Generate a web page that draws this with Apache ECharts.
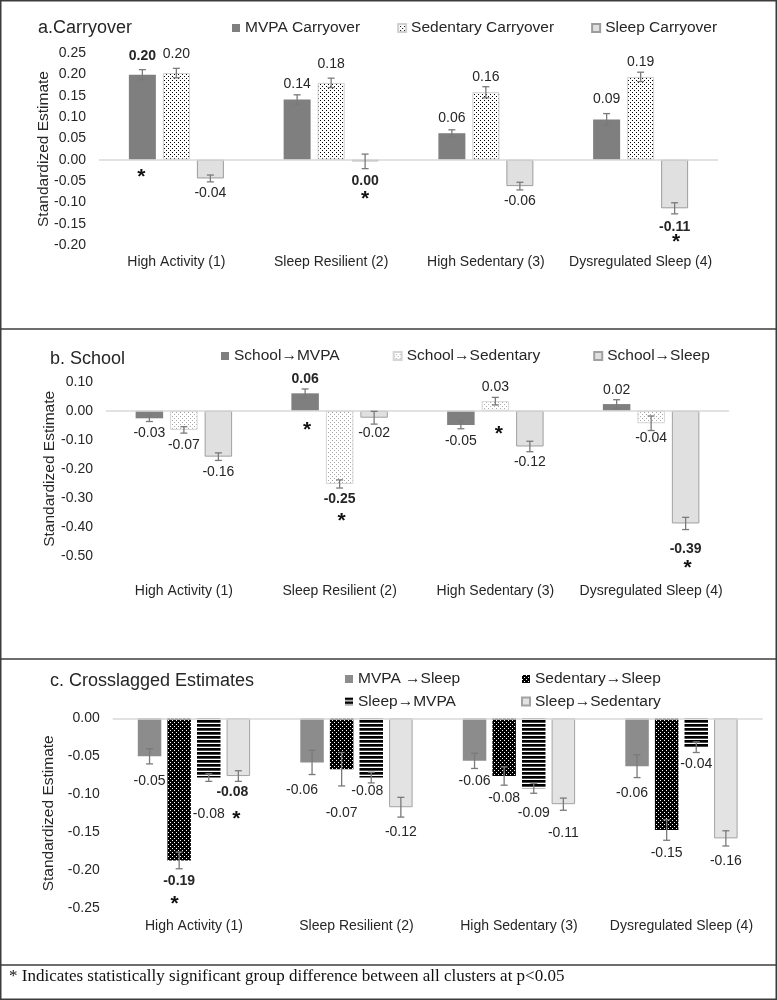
<!DOCTYPE html>
<html><head><meta charset="utf-8">
<script src="https://cdn.jsdelivr.net/npm/echarts@6/dist/echarts.min.js"></script>
<style>html,body{margin:0;padding:0;background:#fff}#c{width:777px;height:1000px}</style>
</head><body><div id="c"></div>
<script>
// ---------------- DATA ----------------
const categories = ['High Activity (1)', 'Sleep Resilient (2)', 'High Sedentary (3)', 'Dysregulated Sleep (4)'];

// a. Carryover
const aYTicks = [-0.20, -0.15, -0.10, -0.05, 0.00, 0.05, 0.10, 0.15, 0.20, 0.25];
const aMVPA = [0.199, 0.141, 0.062, 0.094];
const aMVPAErr = [0.012, 0.011, 0.008, 0.014];
const aSed = [0.203, 0.180, 0.158, 0.194];
const aSedErr = [0.011, 0.011, 0.013, 0.011];
const aSleep = [-0.044, -0.004, -0.062, -0.114];
const aSleepErr = [0.008, 0.017, 0.009, 0.013];
const aMVPABold = [1, 0, 0, 0], aSedBold = [0, 0, 0, 0], aSleepBold = [0, 1, 0, 1];
const aMVPAStar = [1, 0, 0, 0], aSedStar = [0, 0, 0, 0], aSleepStar = [0, 1, 0, 1];

// b. School
const bYTicks = [-0.50, -0.40, -0.30, -0.20, -0.10, 0.00, 0.10];
const bMVPA = [-0.026, 0.060, -0.049, 0.023];
const bMVPAErr = [0.011, 0.015, 0.013, 0.015];
const bSed = [-0.066, -0.252, 0.033, -0.043];
const bSedErr = [0.011, 0.014, 0.013, 0.025];
const bSleep = [-0.158, -0.024, -0.123, -0.388];
const bSleepErr = [0.013, 0.022, 0.018, 0.021];
const bMVPABold = [0, 1, 0, 0], bSedBold = [0, 1, 0, 0], bSleepBold = [0, 0, 0, 1];
const bMVPAStar = [0, 1, 0, 0], bSedStar = [0, 1, 1, 0], bSleepStar = [0, 0, 0, 1];

// c. Crosslagged
const cYTicks = [-0.25, -0.20, -0.15, -0.10, -0.05, 0.00];
const cMVPASleep = [-0.050, -0.058, -0.056, -0.063];
const cMVPASleepErr = [0.010, 0.016, 0.010, 0.015];
const cSedSleep = [-0.187, -0.067, -0.076, -0.147];
const cSedSleepErr = [0.011, 0.022, 0.012, 0.0135];
const cSleepMVPA = [-0.078, -0.078, -0.092, -0.038];
const cSleepMVPAErr = [0.005, 0.007, 0.0066, 0.007];
const cSleepSed = [-0.076, -0.117, -0.113, -0.158];
const cSleepSedErr = [0.007, 0.013, 0.008, 0.010];
const cMVPASleepBold = [0, 0, 0, 0], cSedSleepBold = [1, 0, 0, 0], cSleepMVPABold = [0, 0, 0, 0], cSleepSedBold = [1, 0, 0, 0];
const cMVPASleepStar = [0, 0, 0, 0], cSedSleepStar = [1, 0, 0, 0], cSleepMVPAStar = [0, 0, 0, 0], cSleepSedStar = [1, 0, 0, 0];

const footnote = '* Indicates statistically significant group difference between all clusters at p<0.05';

// ---------------- STYLE / LAYOUT ----------------
const FONT = "'Liberation Sans', Arial, sans-serif";
const TXT = '#262626';
// label centre distance (px) from bar end, per point
const labelGap = {
  aMVPA: [19, 15.7, 15, 20], aSed: [19.3, 18.3, 15, 15], aSleep: [14.7, 19.3, 15, 18.4],
  bMVPA: [15.3, 14.3, 15.7, 14], bSed: [15.7, 15.3, 14.3, 15], bSleep: [15.6, 15, 15.4, 25.7],
  cMS: [24.7, 27.6, 19.8, 26.5], cSS: [20.3, 43.5, 22.2, 22.7], cSM: [36.4, 13.1, 25.1, 16.8], cSSd: [15.6, 24.5, 28.5, 22.3]
};
const labelDx = { cMS: [0, -10, 0, -5], cSM: [0, -4, 0, 0], cSSd: [-6, 0, 0, 0] };
// star placement: [anchor ('base'|'end'), visual-centre distance below anchor px, dx]
const starPos = {
  aMVPA: [['base', 12.7, -1]], aSleep: [['end', 33.3, 0], ['end', 28.5, 1.5]],
  bMVPA: [['base', 14.3, 2]], bSed: [['end', 32.1, 2], ['base', 18.3, 3.5]], bSleep: [['end', 39.6, 2]],
  cSS: [['end', 38.6, -4.5]], cSSd: [['end', 37.9, -2]]
};

function pattern(w, h, draw) {
  const cv = document.createElement('canvas'); cv.width = w; cv.height = h;
  const g = cv.getContext('2d'); draw(g, w, h);
  return { image: cv, repeat: 'repeat' };
}
const dotsBlack = pattern(4, 4, (g) => { g.fillStyle = '#fff'; g.fillRect(0, 0, 4, 4); g.fillStyle = '#000'; g.fillRect(0, 0, 1, 1); g.fillRect(2, 2, 1, 1); });
const dotsLight = pattern(4, 4, (g) => { g.fillStyle = '#fff'; g.fillRect(0, 0, 4, 4); g.fillStyle = '#a8a8a8'; g.fillRect(0, 0, 1, 1); g.fillRect(2, 2, 1, 1); });
const darkDots = pattern(4, 4, (g) => { g.fillStyle = '#000'; g.fillRect(0, 0, 4, 4); g.fillStyle = '#fff'; g.fillRect(0, 0, 1, 1); g.fillRect(2, 2, 1, 1); });
const stripes = pattern(4, 4, (g) => { g.fillStyle = '#fff'; g.fillRect(0, 0, 4, 4); g.fillStyle = '#000'; g.fillRect(0, 0, 4, 2.7); });

const fmt = (v) => (Math.abs(v) < 0.005 ? 0 : v).toFixed(2);

const panels = [
  { grid: { left: 99, top: 53, width: 619, height: 192 }, ticks: aYTicks, nameGap: 47, labelMargin: 10, bw: 27, gap: 7,
    series: [
      { key: 'aMVPA', name: 'MVPA Carryover', vals: aMVPA, err: aMVPAErr, bold: aMVPABold, star: aMVPAStar, style: { color: '#7f7f7f' } },
      { key: 'aSed', name: 'Sedentary Carryover', vals: aSed, err: aSedErr, bold: aSedBold, star: aSedStar, style: { color: dotsBlack, borderColor: '#d0d0d0', borderWidth: 1 } },
      { key: 'aSleep', name: 'Sleep Carryover', vals: aSleep, err: aSleepErr, bold: aSleepBold, star: aSleepStar, style: { color: '#e0e0e0', borderColor: '#9c9c9c', borderWidth: 1 } }
    ] },
  { grid: { left: 106, top: 381.7, width: 623, height: 174.3 }, ticks: bYTicks, nameGap: 48, labelMargin: 28.5, bw: 27.5, gap: 7,
    series: [
      { key: 'bMVPA', name: 'School→MVPA', vals: bMVPA, err: bMVPAErr, bold: bMVPABold, star: bMVPAStar, style: { color: '#7f7f7f' } },
      { key: 'bSed', name: 'School→Sedentary', vals: bSed, err: bSedErr, bold: bSedBold, star: bSedStar, style: { color: dotsLight, borderColor: '#d6d6d6', borderWidth: 1 } },
      { key: 'bSleep', name: 'School→Sleep', vals: bSleep, err: bSleepErr, bold: bSleepBold, star: bSleepStar, style: { color: '#e0e0e0', borderColor: '#a0a0a0', borderWidth: 1 } }
    ] },
  { grid: { left: 112.7, top: 718.3, width: 650, height: 190 }, ticks: cYTicks, nameGap: 56, labelMargin: 10.4, bw: 23.5, gap: 6.1,
    series: [
      { key: 'cMS', name: 'MVPA →Sleep', vals: cMVPASleep, err: cMVPASleepErr, bold: cMVPASleepBold, star: cMVPASleepStar, style: { color: '#8c8c8c' } },
      { key: 'cSS', name: 'Sedentary→Sleep', vals: cSedSleep, err: cSedSleepErr, bold: cSedSleepBold, star: cSedSleepStar, style: { color: darkDots } },
      { key: 'cSM', name: 'Sleep→MVPA', vals: cSleepMVPA, err: cSleepMVPAErr, bold: cSleepMVPABold, star: cSleepMVPAStar, style: { color: stripes } },
      { key: 'cSSd', name: 'Sleep→Sedentary', vals: cSleepSed, err: cSleepSedErr, bold: cSleepSedBold, star: cSleepSedStar, style: { color: '#e3e3e3', borderColor: '#a3a3a3', borderWidth: 1 } }
    ] }
];

const grids = [], xAxes = [], yAxes = [], series = [];
panels.forEach((p, gi) => {
  grids.push(Object.assign({ containLabel: false }, p.grid));
  xAxes.push({ type: 'category', gridIndex: gi, data: categories, position: 'bottom',
    axisLine: { show: false, onZero: false }, axisTick: { show: false },
    axisLabel: { margin: p.labelMargin, fontSize: 14, color: TXT, fontFamily: FONT, interval: 0 } });
  yAxes.push({ type: 'value', gridIndex: gi, min: p.ticks[0], max: p.ticks[p.ticks.length - 1],
    interval: +(p.ticks[1] - p.ticks[0]).toFixed(4),
    name: 'Standardized Estimate', nameLocation: 'middle', nameGap: p.nameGap, nameRotate: 90,
    nameMoveOverlap: false,
    nameTextStyle: { fontSize: 15.5, color: TXT, fontFamily: FONT },
    axisLine: { show: false }, axisTick: { show: false }, splitLine: { show: false },
    axisLabel: { margin: 13, fontSize: 14, color: TXT, fontFamily: FONT,
      formatter: (v) => (Math.abs(v) < 1e-9 ? 0 : v).toFixed(2) } });
  const n = p.series.length;
  p.series.forEach((s, k) => {
    const gaps = labelGap[s.key], dxs = labelDx[s.key] || [0, 0, 0, 0];
    const data = s.vals.map((v, i) => ({
      value: v,
      label: { position: v >= 0 ? 'top' : 'bottom', distance: gaps[i] - 8, offset: [dxs[i], 0],
        fontWeight: s.bold[i] ? 'bold' : 'normal' }
    }));
    const stars = [];
    let si = 0;
    s.star.forEach((f, i) => {
      if (!f) return;
      const sp = starPos[s.key][si++];
      const anchor = sp[0] === 'base' ? 0 : s.vals[i];
      stars.push({ coord: [categories[i], anchor], symbol: 'circle', symbolSize: 1,
        itemStyle: { color: 'rgba(0,0,0,0)' },
        label: { show: true, formatter: '*', position: 'inside', offset: [sp[2], sp[1] + 5],
          fontSize: 21, fontWeight: 'bold', color: '#111', fontFamily: FONT } });
    });
    const ser = {
      type: 'bar', name: s.name, xAxisIndex: gi, yAxisIndex: gi, data,
      barWidth: p.bw, barGap: (p.gap / p.bw * 100).toFixed(2) + '%',
      itemStyle: s.style,
      label: { show: true, formatter: (pp) => fmt(pp.value), fontSize: 14, lineHeight: 16, color: TXT, fontFamily: FONT },
      markPoint: { silent: true, animation: false, data: stars },
      z: 2
    };
    if (k === 0) {
      ser.markLine = { silent: true, symbol: ['none', 'none'], animation: false, label: { show: false },
        lineStyle: { color: '#d9d9d9', width: 1.5, type: 'solid' }, data: [{ yAxis: 0 }] };
    }
    series.push(ser);
  });
  // error bars
  const eData = [];
  p.series.forEach((s, k) => s.vals.forEach((v, i) => eData.push([i, k, v - s.err[i], v + s.err[i]])));
  const bw = p.bw, gap = p.gap;
  series.push({
    type: 'custom', name: 'err' + gi, xAxisIndex: gi, yAxisIndex: gi, data: eData, z: 5, silent: true,
    encode: { x: 0, y: [2, 3] },
    renderItem: (params, api) => {
      const i = api.value(0), k = api.value(1);
      const t = api.coord([i, api.value(3)]), b = api.coord([i, api.value(2)]);
      const x = t[0] + (k - (n - 1) / 2) * (bw + gap);
      const st = { stroke: '#7a7a7a', lineWidth: 1.3 };
      return { type: 'group', children: [
        { type: 'line', shape: { x1: x, y1: t[1], x2: x, y2: b[1] }, style: st },
        { type: 'line', shape: { x1: x - 3.5, y1: t[1], x2: x + 3.5, y2: t[1] }, style: st },
        { type: 'line', shape: { x1: x - 3.5, y1: b[1], x2: x + 3.5, y2: b[1] }, style: st }
      ] };
    }
  });
});

const legendCommon = { icon: 'rect', itemWidth: 8, itemHeight: 8, padding: 0, selectedMode: false,
  textStyle: { fontSize: 15.5, color: TXT, fontFamily: FONT } };
const option = {
  animation: false,
  backgroundColor: '#fff',
  textStyle: { fontFamily: FONT },
  title: [
    { text: 'a.Carryover', left: 38, top: 19, padding: 0, textStyle: { fontSize: 18, fontWeight: 'normal', color: TXT, fontFamily: FONT } },
    { text: 'b. School', left: 50, top: 350, padding: 0, textStyle: { fontSize: 18, fontWeight: 'normal', color: TXT, fontFamily: FONT } },
    { text: 'c. Crosslagged Estimates', left: 50, top: 672, padding: 0, textStyle: { fontSize: 18, fontWeight: 'normal', color: TXT, fontFamily: FONT } },
    { text: footnote, left: 9, top: 968.5, padding: 0, textStyle: { fontSize: 17, fontWeight: 'normal', color: '#111', fontFamily: "'Liberation Serif', 'Times New Roman', serif" } }
  ],
  legend: [
    Object.assign({}, legendCommon, { data: panels[0].series.map(s => s.name), left: 232, top: 20, itemGap: 37 }),
    Object.assign({}, legendCommon, { data: panels[1].series.map(s => s.name), left: 221, top: 348, itemGap: 53 }),
    Object.assign({}, legendCommon, { data: [panels[2].series[0].name, panels[2].series[2].name], orient: 'vertical', left: 345, top: 671, itemGap: 6.4 }),
    Object.assign({}, legendCommon, { data: [panels[2].series[1].name, panels[2].series[3].name], orient: 'vertical', left: 521, top: 671, itemGap: 6.4 })
  ],
  grid: grids, xAxis: xAxes, yAxis: yAxes, series,
  graphic: [
    { type: 'rect', silent: true, shape: { x: 0.75, y: 0.75, width: 775.5, height: 998.5 }, style: { fill: 'none', stroke: '#3c3c3c', lineWidth: 1.5 } },
    { type: 'line', silent: true, shape: { x1: 0, y1: 329, x2: 777, y2: 329 }, style: { stroke: '#3c3c3c', lineWidth: 1.5 } },
    { type: 'line', silent: true, shape: { x1: 0, y1: 659, x2: 777, y2: 659 }, style: { stroke: '#3c3c3c', lineWidth: 1.5 } },
    { type: 'line', silent: true, shape: { x1: 0, y1: 965, x2: 777, y2: 965 }, style: { stroke: '#3c3c3c', lineWidth: 1.5 } }
  ]
};
const chart = echarts.init(document.getElementById('c'), null, { renderer: 'canvas' });
chart.setOption(option);
</script></body></html>
